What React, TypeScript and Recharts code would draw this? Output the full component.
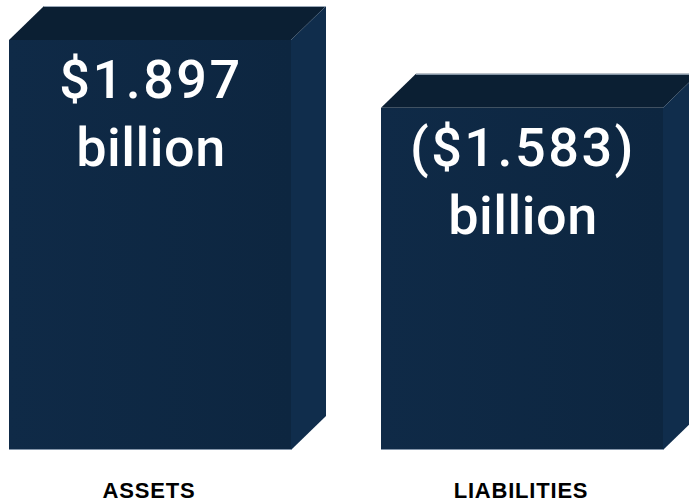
import { BarChart, Bar, XAxis, YAxis } from 'recharts';

const categories = ['ASSETS', 'LIABILITIES'];
const amounts = [1.897, 1.583];
const amountLabels = ['$1.897', '($1.583)'];
const unitLabels = ['billion', 'billion'];

const data = categories.map((name, i) => ({
    name,
    value: amounts[i],
    amountLabel: amountLabels[i],
    unitLabel: unitLabels[i],
}));

// depth of the fake 3D box
const DX = 35;
const DY = 34;
const FONT = '"Liberation Sans", Arial, sans-serif';
const VALUE_FONT = 'Roboto, "Liberation Sans", Arial, sans-serif';

const Box3D = (props: any) => {
    const { x, y, width, height, payload } = props;
    const right = x + width;
    const bottom = y + height;
    const cx = x + width / 2;
    return (
        <g>
            <polygon
                points={`${x},${y} ${x + DX},${y - DY} ${right + DX},${y - DY} ${right},${y}`}
                fill="#0b1f33"
            />
            <polygon
                points={`${right},${y} ${right + DX},${y - DY} ${right + DX},${bottom - DY} ${right},${bottom}`}
                fill="#102d4c"
            />
            <rect x={x} y={y} width={width} height={height} fill="url(#frontFace)" />
            <line x1={x + DX} y1={y - DY + 0.5} x2={right + DX} y2={y - DY + 0.5} stroke="#9aa8b8" strokeWidth={1} />
            <line x1={x} y1={bottom - 0.5} x2={right} y2={bottom - 0.5} stroke="#8596aa" strokeWidth={1} />
            <text x={cx + 1} y={y + 58} textAnchor="middle" fill="#ffffff" fontSize={54} fontWeight={500} fontFamily={VALUE_FONT} letterSpacing={2.5}>
                {payload.amountLabel}
            </text>
            <text x={cx + 1} y={y + 126} textAnchor="middle" fill="#ffffff" fontSize={54} fontWeight={500} fontFamily={VALUE_FONT} letterSpacing={0.5}>
                {payload.unitLabel}
            </text>
        </g>
    );
};

const CategoryTick = (props: any) => {
    const { x, y, payload } = props;
    return (
        <text x={x - 1} y={y + 48} textAnchor="middle" fill="#000000" fontSize={22} fontWeight="bold" fontFamily={FONT} letterSpacing={0.8}>
            {payload.value}
        </text>
    );
};

const App = () => {
    return (
        <div style={{ position: 'absolute', left: 0, top: 0, width: 689, height: 504, overflow: 'hidden', background: '#ffffff' }}>
            <BarChart
                width={744}
                height={504}
                data={data}
                style={{ marginLeft: -36 }}
                margin={{ top: 40, right: 0, left: 0, bottom: 0 }}
                barCategoryGap={0}
            >
                <defs>
                    <linearGradient id="frontFace" x1="0" y1="0" x2="1" y2="0">
                        <stop offset="0%" stopColor="#0f2a47" />
                        <stop offset="100%" stopColor="#0d2640" />
                    </linearGradient>
                </defs>
                <XAxis
                    dataKey="name"
                    height={54}
                    axisLine={false}
                    tickLine={false}
                    tickSize={0}
                    tickMargin={0}
                    tick={<CategoryTick />}
                    interval={0}
                />
                <YAxis hide domain={[0, 1.897]} />
                <Bar dataKey="value" barSize={282} shape={<Box3D />} isAnimationActive={false} />
            </BarChart>
        </div>
    );
};

export default App;
